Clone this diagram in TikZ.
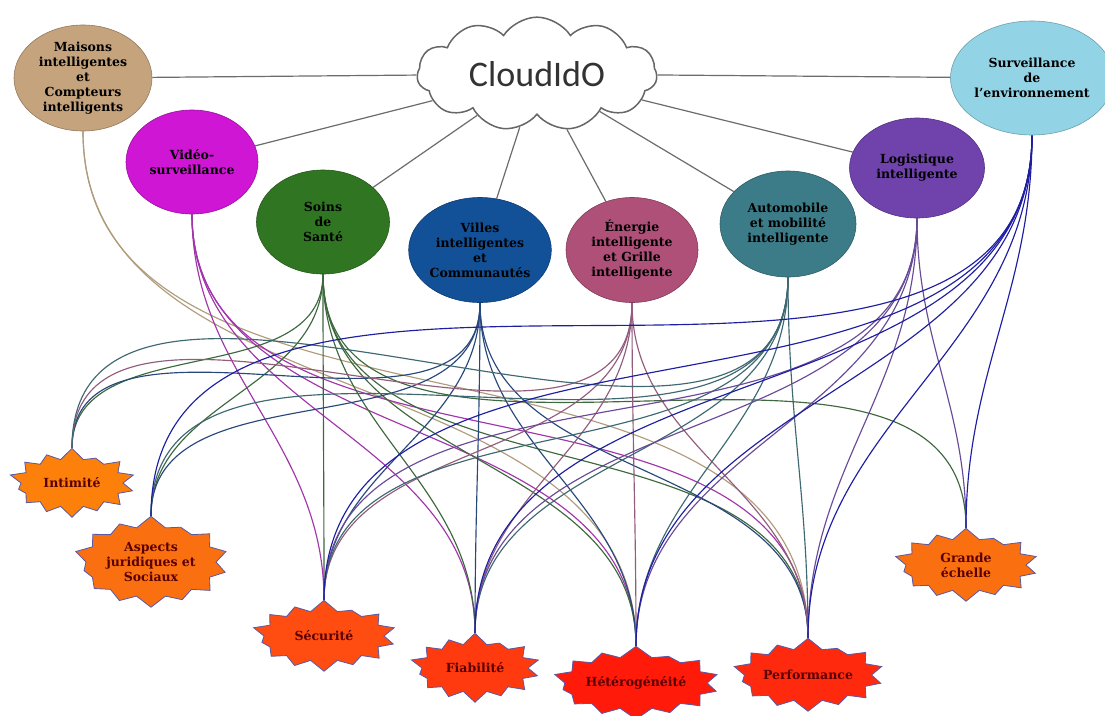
\documentclass[tikz,border=0pt]{standalone}
\usepackage{fontspec}
\setmainfont{DejaVu Serif}
\newfontfamily\cloudfont{Carlito}
\usepackage{tikz}
\usetikzlibrary{shapes.geometric, shapes.symbols, arrows.meta, positioning, calc}

\pgfdeclarelayer{bg}
\pgfdeclarelayer{links}
\pgfsetlayers{bg,links,main}

% application colours
\definecolor{maisonC}{RGB}{196,163,125}
\definecolor{videoC}{RGB}{206,22,212}
\definecolor{soinsC}{RGB}{48,118,34}
\definecolor{villesC}{RGB}{18,80,152}
\definecolor{energieC}{RGB}{174,80,120}
\definecolor{autoC}{RGB}{60,124,136}
\definecolor{logiC}{RGB}{112,66,172}
\definecolor{envC}{RGB}{146,212,230}
% link colours
\definecolor{maisonL}{RGB}{176,156,124}
\definecolor{videoL}{RGB}{162,52,172}
\definecolor{soinsL}{RGB}{62,104,62}
\definecolor{villesL}{RGB}{40,72,124}
\definecolor{energieL}{RGB}{146,92,124}
\definecolor{autoL}{RGB}{62,104,114}
\definecolor{logiL}{RGB}{104,74,152}
\definecolor{envL}{RGB}{30,30,162}
% challenge colours
\definecolor{orangeA}{RGB}{252,128,10}
\definecolor{orangeB}{RGB}{250,112,16}
\definecolor{redA}{RGB}{255,76,16}
\definecolor{redB}{RGB}{255,58,14}
\definecolor{redC}{RGB}{255,26,10}
\definecolor{redD}{RGB}{255,42,14}

\begin{document}
\begin{tikzpicture}[
    x=1pt, y=-1pt,
    app/.style={ellipse, draw=#1!75!black, fill=#1, line width=0.6pt, inner sep=0pt,
        align=center, text=black, font=\bfseries\fontsize{12.5}{15}\selectfont},
    challenge/.style={starburst, starburst points=14, starburst point height=13pt,
        random starburst=37, draw=gray!70!blue, line width=0.8pt, fill=#1, inner sep=0pt,
        align=center, text=red!35!black, font=\bfseries\fontsize{12.5}{15}\selectfont},
    spoke/.style={draw=gray!85!black, line width=1.2pt},
    link/.style={draw=#1, line width=1.15pt, out=-90, in=90}
]
\useasboundingbox (0,0) rectangle (1105,715);
\begin{pgfonlayer}{bg}
  \fill[white] (0,0) rectangle (1105,715);
\end{pgfonlayer}

% cloud
\node[cloud, cloud puffs=11, cloud puff arc=115, aspect=2.2, draw=gray!80!black,
      line width=1.5pt, fill=white, inner sep=0pt, minimum width=240pt, minimum height=110pt,
      font=\cloudfont\fontsize{36}{40}\selectfont, text=black!80] (cloud) at (537,74) {CloudIdO};

% applications
\node[app=maisonC, minimum width=138pt, minimum height=106pt] (maisons) at (83,78)
    {Maisons\\intelligentes\\et\\Compteurs\\intelligents};
\node[app=envC, minimum width=140pt, minimum height=114pt] (env) at (1032,78)
    {Surveillance\\de\\l'environnement};
\node[app=videoC, minimum width=132pt, minimum height=104pt] (video) at (192,162)
    {Vidéo-\\surveillance};
\node[app=soinsC, minimum width=133pt, minimum height=104pt] (soins) at (323,222)
    {Soins\\de\\Santé};
\node[app=villesC, minimum width=135pt, minimum height=105pt] (villes) at (480,250)
    {Villes\\intelligentes\\et\\Communautés};
\node[app=energieC, minimum width=132pt, minimum height=105pt] (energie) at (632,250)
    {Énergie\\intelligente\\et Grille\\intelligente};
\node[app=autoC, minimum width=136pt, minimum height=106pt] (auto) at (788,224)
    {Automobile\\et mobilité\\intelligente};
\node[app=logiC, minimum width=135pt, minimum height=100pt] (logi) at (917,168)
    {Logistique\\intelligente};

% challenges
\node[challenge=orangeA, minimum width=128pt, minimum height=74pt] (intim) at (72,483) {Intimité};
\node[challenge=orangeB, minimum width=156pt, minimum height=96pt] (aspects) at (151,562)
    {Aspects\\juridiques et\\Sociaux};
\node[challenge=redA, minimum width=146pt, minimum height=76pt] (secu) at (324,636) {Sécurité};
\node[challenge=redB, minimum width=132pt, minimum height=74pt] (fiab) at (475,668) {Fiabilité};
\node[challenge=redC, minimum width=160pt, minimum height=78pt] (hetero) at (636,683) {Hétérogénéité};
\node[challenge=redD, minimum width=144pt, minimum height=78pt] (perf) at (808,675) {Performance};
\node[challenge=orangeB, minimum width=146pt, minimum height=78pt] (grande) at (966,565)
    {Grande\\échelle};

\begin{pgfonlayer}{links}
  % cloud spokes
  \foreach \a in {maisons,video,soins,villes,energie,auto,logi,env}
    \draw[spoke] (cloud) -- (\a);
  % application -> challenge
  \foreach \t in {hetero,perf}
    \draw[link=maisonL] (maisons.south) to (\t.north);
  \foreach \t in {secu,fiab,hetero,perf}
    \draw[link=videoL] (video.south) to (\t.north);
  \foreach \t in {intim,aspects,secu,fiab,hetero,perf,grande}
    \draw[link=soinsL] (soins.south) to (\t.north);
  \foreach \t in {intim,aspects,secu,fiab,hetero,perf}
    \draw[link=villesL] (villes.south) to (\t.north);
  \foreach \t in {intim,secu,fiab,hetero,perf}
    \draw[link=energieL] (energie.south) to (\t.north);
  \foreach \t in {intim,aspects,secu,fiab,hetero,perf}
    \draw[link=autoL] (auto.south) to (\t.north);
  \foreach \t in {secu,fiab,hetero,perf,grande}
    \draw[link=logiL] (logi.south) to (\t.north);
  \foreach \t in {aspects,secu,fiab,hetero,perf,grande}
    \draw[link=envL] (env.south) to (\t.north);
\end{pgfonlayer}
\end{tikzpicture}
\end{document}
